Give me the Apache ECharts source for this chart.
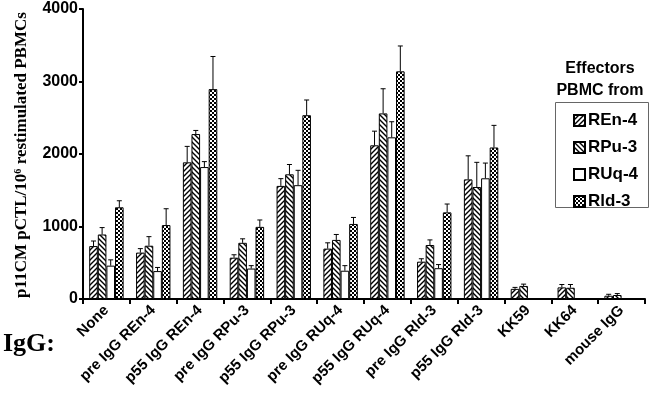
<!DOCTYPE html>
<html>
<head>
<meta charset="utf-8">
<script src="https://cdn.jsdelivr.net/npm/echarts@6/dist/echarts.min.js"></script>
<style>
html,body{margin:0;padding:0;background:#fff;}
#chart{width:653px;height:403px;}
</style>
</head>
<body>
<div id="chart"></div>
<script>
const categories = ['None','pre IgG REn-4','p55 IgG REn-4','pre IgG RPu-3','p55 IgG RPu-3','pre IgG RUq-4','p55 IgG RUq-4','pre IgG Rld-3','p55 IgG Rld-3','KK59','KK64','mouse IgG'];
const seriesNames = ['REn-4','RPu-3','RUq-4','Rld-3'];
const yTicks = [0, 1000, 2000, 3000, 4000];

const ren4 = [730, 640, 1885, 570, 1560, 695, 2120, 515, 1650, 140, 160, 45];
const ren4Err = [70, 55, 220, 40, 100, 80, 195, 40, 325, 20, 40, 20];
const rpu3 = [890, 735, 2275, 775, 1720, 815, 2560, 745, 1545, 180, 155, 55];
const rpu3Err = [95, 125, 50, 55, 135, 75, 340, 70, 340, 25, 45, 20];
const ruq4 = [460, 385, 1820, 420, 1570, 390, 2230, 425, 1665, null, null, null];
const ruq4Err = [80, 50, 75, 40, 205, 70, 215, 50, 210, null, null, null];
const rld3 = [1265, 1020, 2895, 995, 2535, 1035, 3140, 1195, 2090, null, null, null];
const rld3Err = [90, 225, 450, 95, 210, 90, 350, 115, 305, null, null, null];

const values = [ren4, rpu3, ruq4, rld3];
const errors = [ren4Err, rpu3Err, ruq4Err, rld3Err];

function hatch(forward) {
  const s = 5;
  const c = document.createElement('canvas');
  c.width = s; c.height = s;
  const g = c.getContext('2d');
  g.fillStyle = '#fff'; g.fillRect(0, 0, s, s);
  g.strokeStyle = '#000'; g.lineWidth = 1.4;
  g.beginPath();
  if (forward) {
    g.moveTo(-1, s + 1); g.lineTo(s + 1, -1);
    g.moveTo(-1, 1); g.lineTo(1, -1);
    g.moveTo(s - 1, s + 1); g.lineTo(s + 1, s - 1);
  } else {
    g.moveTo(-1, -1); g.lineTo(s + 1, s + 1);
    g.moveTo(s - 1, -1); g.lineTo(s + 1, 1);
    g.moveTo(-1, s - 1); g.lineTo(1, s + 1);
  }
  g.stroke();
  return { image: c, repeat: 'repeat' };
}
function checker() {
  const c = document.createElement('canvas');
  c.width = 4; c.height = 4;
  const g = c.getContext('2d');
  g.fillStyle = '#fff'; g.fillRect(0, 0, 4, 4);
  g.fillStyle = '#000';
  g.fillRect(0, 0, 2, 2); g.fillRect(2, 2, 2, 2);
  return { image: c, repeat: 'repeat' };
}
const fills = [hatch(true), hatch(false), '#ffffff', checker()];

const BAR_W = 8.6;
const font = 'Liberation Sans, Arial, sans-serif';
const serif = 'Liberation Serif, Times New Roman, serif';

const series = [];
seriesNames.forEach((name, i) => {
  series.push({
    name: name,
    type: 'bar',
    data: values[i],
    barWidth: BAR_W,
    barGap: '0%',
    itemStyle: { color: fills[i], borderColor: '#000', borderWidth: 1 },
    emphasis: { disabled: true },
    z: 2
  });
});
seriesNames.forEach((name, i) => {
  const d = [];
  values[i].forEach((v, k) => {
    if (v != null && errors[i][k] != null) d.push([k, v, errors[i][k]]);
  });
  series.push({
    type: 'custom',
    data: d,
    encode: { x: 0, y: 1 },
    z: 5,
    silent: true,
    renderItem: function (params, api) {
      const idx = api.value(0), v = api.value(1), e = api.value(2);
      const b = api.coord([idx, v]);
      const t = api.coord([idx, v + e]);
      const x = b[0] + (i - 1.5) * BAR_W;
      const st = { stroke: '#000', lineWidth: 1 };
      return {
        type: 'group',
        children: [
          { type: 'line', shape: { x1: x, y1: b[1], x2: x, y2: t[1] }, style: st },
          { type: 'line', shape: { x1: x - 2.5, y1: t[1], x2: x + 2.5, y2: t[1] }, style: st }
        ]
      };
    }
  });
});

const chart = echarts.init(document.getElementById('chart'));
chart.setOption({
  animation: false,
  backgroundColor: '#fff',
  grid: { left: 83, right: 8, top: 9, bottom: 104, containLabel: false },
  xAxis: {
    type: 'category',
    data: categories,
    axisLine: { lineStyle: { color: '#000', width: 2 } },
    axisTick: { show: true, length: 5, lineStyle: { color: '#000', width: 2 } },
    axisLabel: { interval: 0, rotate: 45, margin: 9, color: '#000', fontFamily: font, fontWeight: 'bold', fontSize: 15, hideOverlap: false }
  },
  yAxis: {
    type: 'value',
    min: yTicks[0],
    max: yTicks[yTicks.length - 1],
    interval: 1000,
    splitLine: { show: false },
    axisLine: { show: true, lineStyle: { color: '#000', width: 2 } },
    axisTick: { show: true, length: 4, lineStyle: { color: '#000', width: 2 } },
    axisLabel: { margin: 5, color: '#000', fontFamily: font, fontWeight: 'bold', fontSize: 16, formatter: function (v) { return String(v); } }
  },
  legend: {
    data: seriesNames,
    orient: 'vertical',
    left: 568,
    top: 107,
    itemWidth: 11,
    itemHeight: 11,
    itemGap: 10,
    icon: 'rect',
    selectedMode: false,
    textStyle: { color: '#000', fontFamily: font, fontWeight: 'bold', fontSize: 17, lineHeight: 16.5, padding: [0, 0, 0, -2] }
  },
  graphic: [
    { type: 'rect', shape: { x: 555.5, y: 102.5, width: 93, height: 105 }, style: { fill: 'none', stroke: '#666', lineWidth: 1 }, silent: true },
    { type: 'text', x: 600, y: 69, style: { text: 'Effectors', font: 'bold 16px ' + font, fill: '#000', align: 'center', verticalAlign: 'middle' } },
    { type: 'text', x: 600, y: 91, style: { text: 'PBMC from', font: 'bold 16px ' + font, fill: '#000', align: 'center', verticalAlign: 'middle' } },
    { type: 'text', x: 22, y: 155, rotation: Math.PI / 2, style: { text: 'p11CM pCTL/10\u2076 restimulated PBMCs', font: 'bold 17px ' + serif, fill: '#000', align: 'center', verticalAlign: 'middle' } },
    { type: 'text', x: 3, y: 344, style: { text: 'IgG:', font: 'bold 26px ' + serif, fill: '#000', align: 'left', verticalAlign: 'middle' } }
  ],
  series: series
});
</script>
</body>
</html>
